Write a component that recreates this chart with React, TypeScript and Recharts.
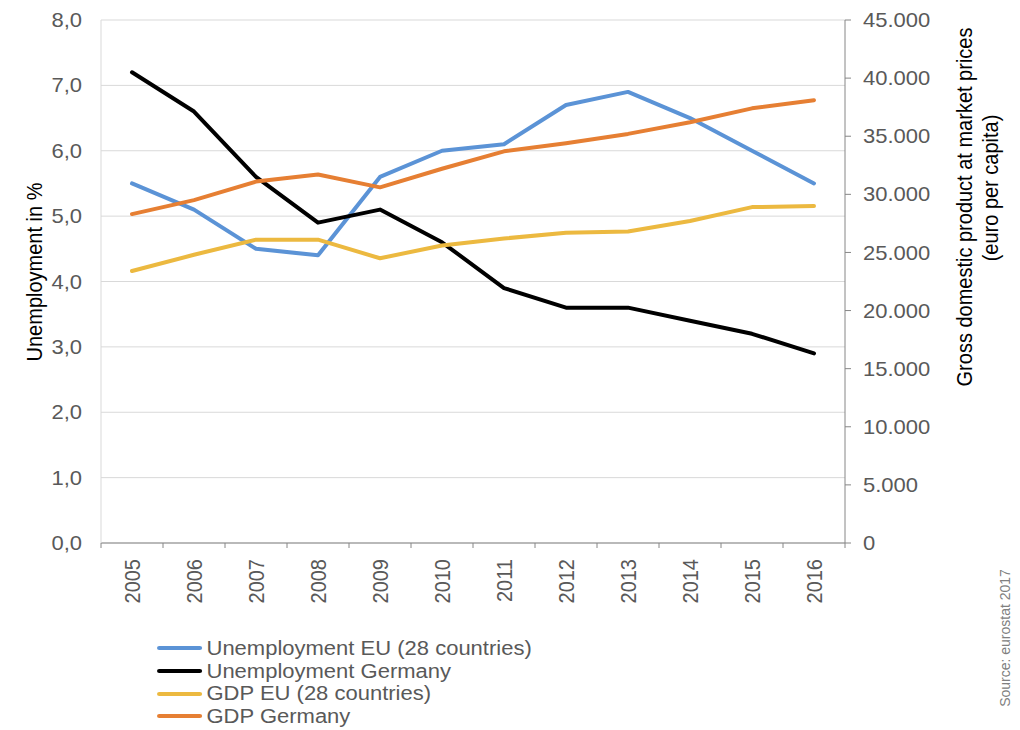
import React from "react";
import {
  LineChart,
  Line,
  XAxis,
  YAxis,
  CartesianGrid,
  Legend,
  Label,
} from "recharts";

// values
const years = ["2005", "2006", "2007", "2008", "2009", "2010", "2011", "2012", "2013", "2014", "2015", "2016"];
const unemploymentEU = [5.5, 5.1, 4.5, 4.4, 5.6, 6.0, 6.1, 6.7, 6.9, 6.5, 6.0, 5.5];
const unemploymentDE = [7.2, 6.6, 5.6, 4.9, 5.1, 4.6, 3.9, 3.6, 3.6, 3.4, 3.2, 2.9];
const gdpEU = [23400, 24800, 26100, 26100, 24500, 25600, 26200, 26700, 26800, 27700, 28900, 29000];
const gdpDE = [28300, 29500, 31100, 31700, 30600, 32200, 33700, 34400, 35200, 36200, 37400, 38100];
const leftTicks = [0, 1, 2, 3, 4, 5, 6, 7, 8];
const rightTicks = [0, 5000, 10000, 15000, 20000, 25000, 30000, 35000, 40000, 45000];

const series = [
  { key: "uEU", name: "Unemployment EU (28 countries)", color: "#5b93d6", axis: "left" },
  { key: "uDE", name: "Unemployment Germany", color: "#000000", axis: "left" },
  { key: "gEU", name: "GDP EU (28 countries)", color: "#ecb940", axis: "right" },
  { key: "gDE", name: "GDP Germany", color: "#e67f33", axis: "right" },
];

const data = years.map((year, i) => ({
  year,
  uEU: unemploymentEU[i],
  uDE: unemploymentDE[i],
  gEU: gdpEU[i],
  gDE: gdpDE[i],
}));

const W = 1020;
const H = 730;
const LEFT_W = 101;
const RIGHT_W = 175;
const HALF_BAND = (W - LEFT_W - RIGHT_W) / years.length / 2;
const GREY = "#595959";
const AXIS = "#868686";
// the source picture is a little wider than tall, text included
const SX = 1.1;

const fmtLeft = (v: number) => v.toFixed(1).replace(".", ",");
const fmtRight = (v: number) => String(v).replace(/\B(?=(\d{3})+(?!\d))/g, ".");

function YearTick(props: any) {
  const { x, y, payload, index } = props;
  const last = index === years.length - 1;
  return (
    <g>
      <line x1={x - HALF_BAND} x2={x - HALF_BAND} y1={y} y2={y + 5} stroke={AXIS} />
      {last && <line x1={x + HALF_BAND} x2={x + HALF_BAND} y1={y} y2={y + 5} stroke={AXIS} />}
      <text
        transform={`translate(${x + 8},${y + 16}) scale(${SX},1) rotate(-90)`}
        textAnchor="end"
        fill={GREY}
        fontSize={20}
      >
        {payload.value}
      </text>
    </g>
  );
}

function ValueTick(props: any) {
  const { x, y, payload, anchor, fmt } = props;
  return (
    <text
      transform={`translate(${x},${y}) scale(${SX},1)`}
      textAnchor={anchor}
      dy="0.355em"
      fill={GREY}
      fontSize={20}
    >
      {fmt(payload.value)}
    </text>
  );
}

function VText({ x, y, size = 20, fill = "#000", children }: any) {
  return (
    <text transform={`translate(${x},${y}) scale(${SX},1) rotate(-90)`} textAnchor="middle" fill={fill} fontSize={size}>
      {children}
    </text>
  );
}

function LegendBox() {
  return (
    <div style={{ fontSize: 20, color: GREY, transform: `scaleX(${SX})`, transformOrigin: "0 0" }}>
      {series.map((s) => (
        <div key={s.key} style={{ display: "flex", alignItems: "center", height: 22.7, whiteSpace: "nowrap" }}>
          <span style={{ display: "inline-block", width: 41, height: 4, borderRadius: 2, background: s.color, marginRight: 4 }} />
          <span>{s.name}</span>
        </div>
      ))}
    </div>
  );
}

export default function App() {
  return (
    <div style={{ position: "absolute", left: 0, top: 0, width: W, height: H, background: "#fff", fontFamily: "'Liberation Sans', Arial, sans-serif" }}>
      <LineChart width={W} height={H} data={data} margin={{ top: 20, right: 0, left: 0, bottom: 0 }}>
        <CartesianGrid yAxisId="left" vertical={false} stroke="#d9d9d9" />
        <XAxis
          dataKey="year"
          height={187}
          padding={{ left: HALF_BAND, right: HALF_BAND }}
          axisLine={{ stroke: AXIS }}
          tickLine={false}
          tickSize={0}
          tickMargin={0}
          interval={0}
          tick={<YearTick />}
        />
        <YAxis
          yAxisId="left"
          width={LEFT_W}
          domain={[0, 8]}
          ticks={leftTicks}
          axisLine={{ stroke: "#d9d9d9" }}
          tickLine={false}
          tickSize={6}
          tickMargin={13}
          tick={<ValueTick anchor="end" fmt={fmtLeft} />}
        >
          <Label content={() => <VText x={42} y={272}>Unemployment in %</VText>} />
        </YAxis>
        <YAxis
          yAxisId="right"
          orientation="right"
          width={RIGHT_W}
          domain={[0, 45000]}
          ticks={rightTicks}
          axisLine={{ stroke: AXIS }}
          tickLine={{ stroke: AXIS }}
          tickSize={6}
          tickMargin={12}
          tick={<ValueTick anchor="start" fmt={fmtRight} />}
        >
          <Label
            content={() => (
              <g>
                <VText x={972} y={207}>Gross domestic product at market prices</VText>
                <VText x={998} y={188}>(euro per capita)</VText>
                <VText x={1010} y={638} size={14} fill="#808080">Source: eurostat 2017</VText>
              </g>
            )}
          />
        </YAxis>
        {series.map((s) => (
          <Line
            key={s.key}
            yAxisId={s.axis}
            dataKey={s.key}
            name={s.name}
            stroke={s.color}
            strokeWidth={4}
            strokeLinecap="round"
            strokeLinejoin="round"
            dot={false}
            activeDot={false}
            isAnimationActive={false}
          />
        ))}
        <Legend
          layout="vertical"
          align="center"
          verticalAlign="middle"
          content={() => <LegendBox />}
          wrapperStyle={{ left: 157, top: 637, width: "auto" }}
        />
      </LineChart>
    </div>
  );
}
